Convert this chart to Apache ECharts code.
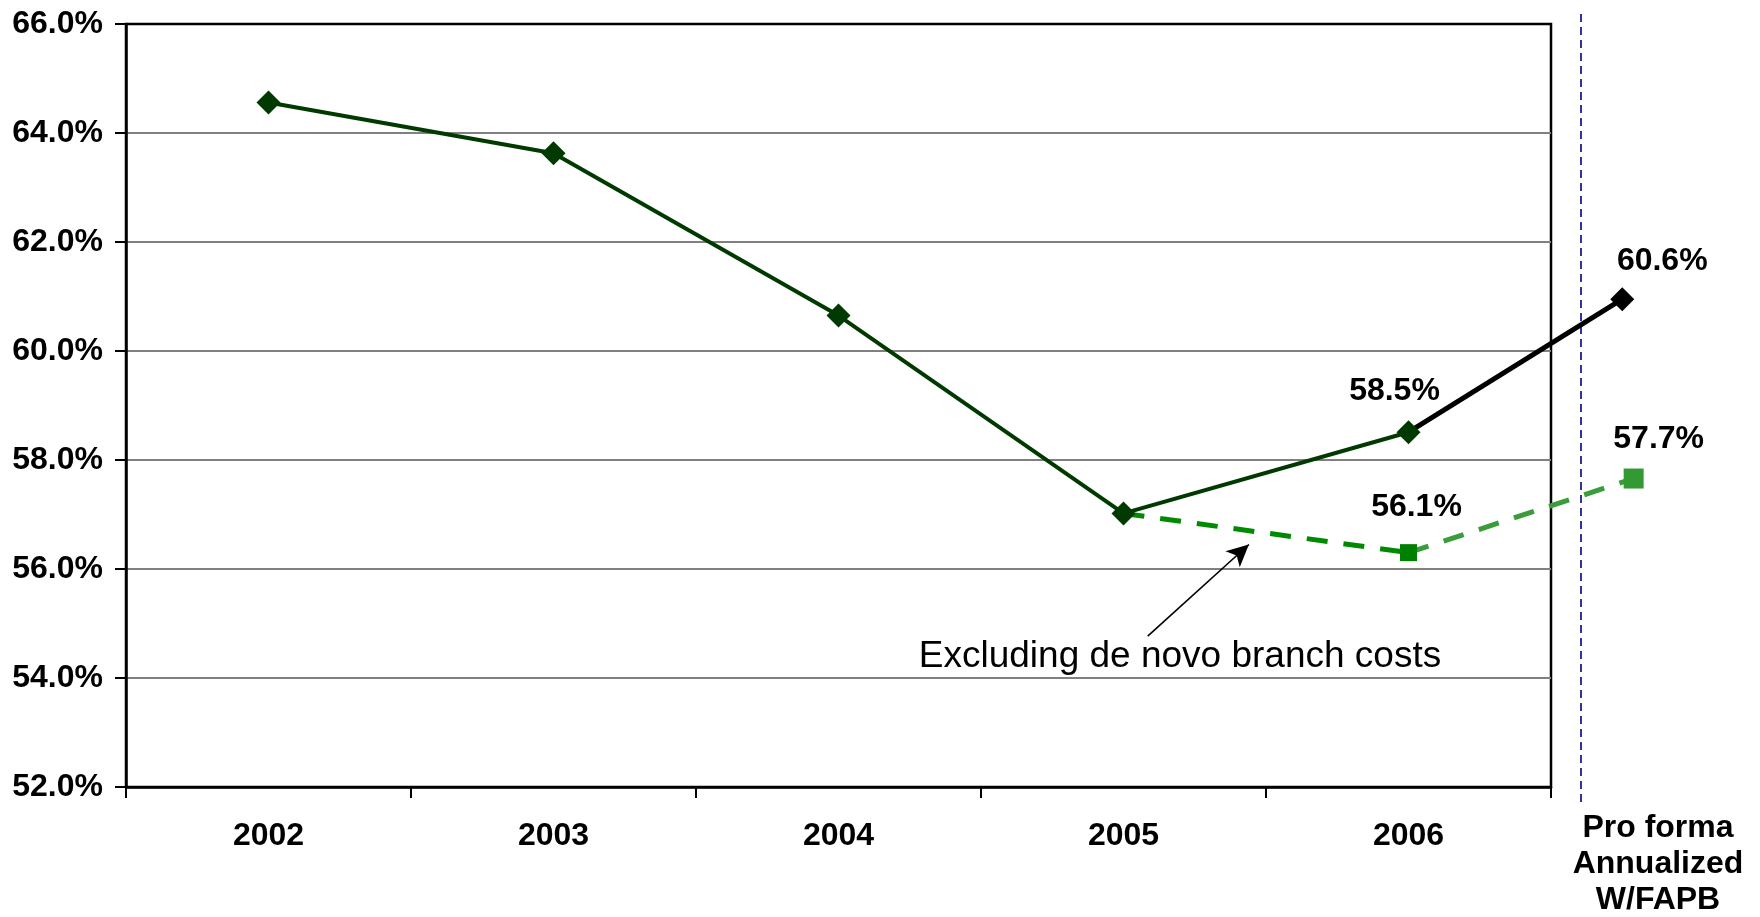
<!DOCTYPE html>
<html>
<head>
<meta charset="utf-8">
<script src="https://cdn.jsdelivr.net/npm/echarts@6/dist/echarts.min.js"></script>
<style>
html,body{margin:0;padding:0;background:#fff;}
#main{width:1760px;height:917px;}
</style>
</head>
<body>
<div id="main"></div>
<script>
var years = ['2002', '2003', '2004', '2005', '2006'];
var ratio = [64.56, 63.63, 60.65, 57.02, 58.51];
var proFormaX = [4, 4.75];
var proFormaRatio = [58.51, 60.95];
var exclX = [3, 4, 4.79];
var exclRatio = [57.02, 56.30, 57.66];
var yTicks = [52, 54, 56, 58, 60, 62, 64, 66];
var proFormaName = 'Pro forma\nAnnualized\nW/FAPB';
var noteText = 'Excluding de novo branch costs';
var font = '"Liberation Sans", Arial, sans-serif';

/*点标签*/
function pointLabel(text, dx, dy) {
	return {
		show: true,
		position: 'top',
		offset: [dx, dy],
		formatter: text,
		color: '#000',
		fontFamily: font,
		fontWeight: 'bold',
		fontSize: 32
	};
}

function draw() {
	var myChart = echarts.init(document.getElementById('main'));
	var mainData = ratio.map(function (v, i) {
		var item = { value: [i, v] };
		if (i === 4) item.label = pointLabel('58.5%', -14, -8);
		return item;
	});
	// grid 1 is wider than grid 0 so the pro forma points fit inside it
	var option = {
		backgroundColor: '#fff',
		animation: false,
		grid: [{
			left: 126, top: 24, width: 1425, height: 763,
			show: true, borderColor: '#000', borderWidth: 2.5,
			backgroundColor: 'transparent'
		}, {
			left: 126, top: 24, width: 1634, height: 763
		}],
		xAxis: [{
			type: 'category',
			gridIndex: 0,
			data: years,
			boundaryGap: true,
			axisLine: { lineStyle: { color: '#000', width: 2.5 } },
			axisTick: { show: true, interval: 0, length: 11, lineStyle: { color: '#000', width: 2 } },
			axisLabel: { interval: 0, margin: 33, color: '#000', fontFamily: font, fontWeight: 'bold', fontSize: 32 },
			splitLine: { show: false }
		}, {
			type: 'value',
			gridIndex: 1,
			min: -0.5, max: -0.5 + 1634 / 285,
			show: false
		}],
		yAxis: [{
			type: 'value',
			gridIndex: 0,
			min: yTicks[0], max: yTicks[yTicks.length - 1], interval: 2,
			axisLine: { show: true, onZero: false, lineStyle: { color: '#000', width: 2.5 } },
			axisTick: { show: true, length: 11, lineStyle: { color: '#000', width: 2 } },
			axisLabel: {
				margin: 23, color: '#000', fontFamily: font, fontWeight: 'bold', fontSize: 32,
				formatter: function (v) { return v.toFixed(1) + '%'; }
			},
			splitLine: { show: true, showMinLine: false, showMaxLine: false, lineStyle: { color: '#808080', width: 2 } }
		}, {
			type: 'value',
			gridIndex: 1,
			min: yTicks[0], max: yTicks[yTicks.length - 1],
			show: false
		}],
		series: [{
			/*不含新网点成本*/
			type: 'line',
			xAxisIndex: 1, yAxisIndex: 1,
			data: exclX.slice(0, 2).map(function (x, i) {
				var item = { value: [x, exclRatio[i]] };
				if (i === 0) item.symbol = 'none';
				if (i === 1) item.label = pointLabel('56.1%', 8, -16);
				return item;
			}),
			symbol: 'rect', symbolSize: 17,
			itemStyle: { color: '#008000' },
			lineStyle: { color: '#008a00', width: 5, type: [21, 16] },
			z: 2,
			markLine: {
				silent: true,
				symbol: ['arrow', 'none'],
				symbolSize: [16, 22],
				lineStyle: { color: '#000', width: 1.6, type: 'solid' },
				label: { show: false },
				data: [[{ coord: [3.44, 56.45] }, { coord: [3.085, 54.77] }]]
			}
		}, {
			type: 'line',
			xAxisIndex: 1, yAxisIndex: 1,
			data: exclX.slice(1).map(function (x, i) {
				var item = { value: [x, exclRatio[i + 1]] };
				if (i === 0) item.symbol = 'none';
				if (i === 1) item.label = pointLabel('57.7%', 25, -8);
				return item;
			}),
			symbol: 'rect', symbolSize: 20,
			itemStyle: { color: '#339933' },
			lineStyle: { color: '#3a9c3a', width: 5, type: [21, 16] },
			z: 2
		}, {
			/*主线*/
			type: 'line',
			xAxisIndex: 1, yAxisIndex: 1,
			data: mainData,
			symbol: 'diamond', symbolSize: 24,
			itemStyle: { color: '#013a01' },
			lineStyle: { color: '#013a01', width: 4 },
			z: 4
		}, {
			type: 'line',
			xAxisIndex: 1, yAxisIndex: 1,
			data: proFormaX.map(function (x, i) {
				var item = { value: [x, proFormaRatio[i]] };
				if (i === 0) item.symbol = 'none';
				if (i === 1) item.label = pointLabel('60.6%', 40, -5);
				return item;
			}),
			symbol: 'diamond', symbolSize: 24,
			itemStyle: { color: '#000' },
			lineStyle: { color: '#000', width: 5 },
			z: 3
		}],
		graphic: [{
			type: 'line',
			shape: { x1: 1581, y1: 14, x2: 1581, y2: 802 },
			style: { stroke: '#000080', lineWidth: 1.6, lineDash: [8, 5] }
		}, {
			type: 'text',
			x: 1658, y: 810,
			style: {
				text: proFormaName, align: 'center', verticalAlign: 'top',
				fontFamily: font, fontWeight: 'bold', fontSize: 32, lineHeight: 36, fill: '#000'
			}
		}, {
			type: 'text',
			x: 1180, y: 657,
			style: {
				text: noteText, align: 'center', verticalAlign: 'middle',
				fontFamily: font, fontSize: 37, fill: '#000'
			}
		}]
	};
	myChart.setOption(option);
}
draw();
</script>
</body>
</html>
